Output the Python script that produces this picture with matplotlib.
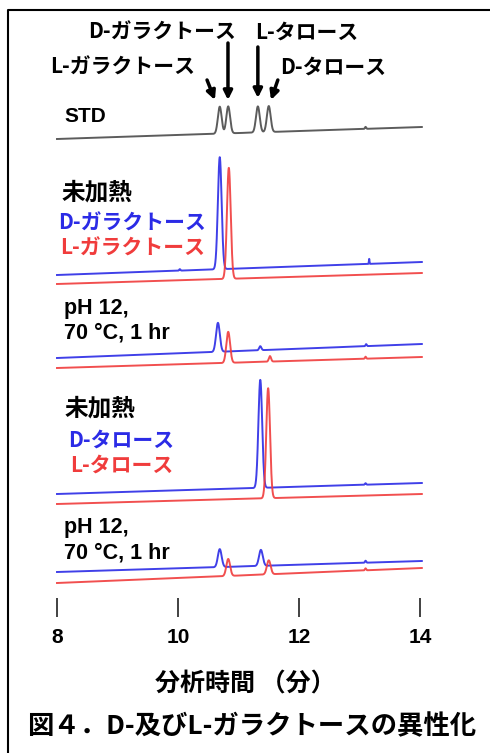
import numpy as np
import matplotlib.pyplot as plt
from matplotlib.lines import Line2D

W, H = 490, 753
JP = ['Noto Sans CJK JP', 'DejaVu Sans']
LAT = ['Liberation Sans', 'DejaVu Sans']

BLUE = '#2b2be6'
RED = '#f03c3c'
GRAY = '#4a4a4a'

std_rt = [10.69, 10.83, 11.32, 11.50, 13.10]
std_h = [27, 27, 26, 26, 2]

gal_d_rt = [10.03, 10.69, 13.16]
gal_d_h = [1.5, 112, 5]
gal_l_rt = [10.84]
gal_l_h = [111]

gal_d_heat_rt = [10.66, 11.36, 13.11]
gal_d_heat_h = [29, 4, 2]
gal_l_heat_rt = [10.83, 11.52, 13.10]
gal_l_heat_h = [31, 5.5, 2]

tal_d_rt = [11.36, 13.10]
tal_d_h = [108, 1.5]
tal_l_rt = [11.49]
tal_l_h = [110]

tal_d_heat_rt = [10.69, 11.37, 13.10]
tal_d_heat_h = [18, 16, 2]
tal_l_heat_rt = [10.83, 11.50, 13.10]
tal_l_heat_h = [17, 14, 2]

# deriva de la línea base a lo largo de la corrida
drift = {'std': 12, 'gal_d': 13, 'gal_l': 11, 'gal_d_heat': 14, 'gal_l_heat': 11,
         'tal_d': 11, 'tal_l': 10, 'tal_d_heat': 11, 'tal_l_heat': 15}

x_ticks = [8, 10, 12, 14]

# posición vertical (px desde arriba) de cada traza apilada
AX_BOTTOM = 617
stack_px = {'std': 139, 'gal_d': 275, 'gal_l': 284, 'gal_d_heat': 358, 'gal_l_heat': 368,
            'tal_d': 494, 'tal_l': 504, 'tal_d_heat': 572, 'tal_l_heat': 583}

t0, t1 = 8.0, 14.03
t = np.linspace(t0, t1, 4000)


def trace(key, rts, hs):
    y = (AX_BOTTOM - stack_px[key]) + drift[key] * (t - t0) / (t1 - t0)
    for rt, h in zip(rts, hs):
        if h > 6:
            s = 0.031
        elif h > 3:
            s = 0.018
        else:
            s = 0.010
        if key == 'gal_d' and rt > 13:
            s = 0.005  # pico agudo
        y = y + h * np.exp(-(t - rt) ** 2 / (2 * s ** 2))
    return y


fig = plt.figure(figsize=(W / 100, H / 100), dpi=100)
ax = fig.add_axes([0, (H - AX_BOTTOM) / H, 1, AX_BOTTOM / H])
ax.set_xlim(8 - 57 / 60.5, 8 + (W - 57) / 60.5)
ax.set_ylim(0, AX_BOTTOM)
for sp in ax.spines.values():
    sp.set_visible(False)
ax.set_yticks([])

series = [
    ('std', std_rt, std_h, GRAY),
    ('gal_d', gal_d_rt, gal_d_h, BLUE),
    ('gal_l', gal_l_rt, gal_l_h, RED),
    ('gal_d_heat', gal_d_heat_rt, gal_d_heat_h, BLUE),
    ('gal_l_heat', gal_l_heat_rt, gal_l_heat_h, RED),
    ('tal_d', tal_d_rt, tal_d_h, BLUE),
    ('tal_l', tal_l_rt, tal_l_h, RED),
    ('tal_d_heat', tal_d_heat_rt, tal_d_heat_h, BLUE),
    ('tal_l_heat', tal_l_heat_rt, tal_l_heat_h, RED),
]
for key, rts, hs, c in series:
    ax.plot(t, trace(key, rts, hs), color=c, lw=1.4, alpha=0.9)

# eje x: solo marcas cortas y números
ax.set_xticks(x_ticks)
ax.set_xticklabels([str(v) for v in x_ticks], fontfamily=LAT, fontweight='bold')
ax.tick_params(axis='x', direction='in', length=13.5, width=1.3, color='#333333',
               pad=8, labelsize=15)
ax.set_xlabel('分析時間 （分）', fontfamily=JP, fontweight='bold', fontsize=18, labelpad=18)


def px(x, y):
    return x / W, 1 - y / H


# flechas sobre el patrón
arrows = [((10.48, 537), (10.61, 517)), ((10.826, 574), (10.826, 517)),
          ((11.32, 570), (11.32, 519)), ((11.65, 537), (11.537, 517))]
for tail, tip in arrows:
    ax.annotate('', xy=tip, xytext=tail,
                arrowprops=dict(arrowstyle='-|>', lw=2.5, color='black', mutation_scale=13,
                                shrinkA=0, shrinkB=0))

fig.text(*px(162, 32), 'D-ガラクトース', fontfamily=JP, fontweight='bold', fontsize=15,
         ha='center', va='center')
fig.text(*px(307, 32), 'L-タロース', fontfamily=JP, fontweight='bold', fontsize=15,
         ha='center', va='center')
fig.text(*px(123, 67), 'L-ガラクトース', fontfamily=JP, fontweight='bold', fontsize=15,
         ha='center', va='center')
fig.text(*px(333, 67), 'D-タロース', fontfamily=JP, fontweight='bold', fontsize=15,
         ha='center', va='center')
fig.text(*px(64, 117), 'STD', fontfamily=LAT, fontweight='bold', fontsize=15, va='center')

labels = [
    (62, 192, '未加熱', 'black', JP, 17),
    (58, 223, 'D-ガラクトース', BLUE, JP, 15),
    (60, 248, 'L-ガラクトース', RED, JP, 15),
    (64, 308, 'pH 12,', 'black', LAT, 15.5),
    (64, 333, '70 °C, 1 hr', 'black', LAT, 15.5),
    (65, 408, '未加熱', 'black', JP, 17),
    (68, 440, 'D-タロース', BLUE, JP, 15),
    (70, 465, 'L-タロース', RED, JP, 15),
    (64, 527, 'pH 12,', 'black', LAT, 15.5),
    (64, 553, '70 °C, 1 hr', 'black', LAT, 15.5),
]
for x, y, s, c, fam, fs in labels:
    fig.text(*px(x, y), s, color=c, fontfamily=fam, fontweight='bold', fontsize=fs, va='center')

fig.text(*px(252, 727), '図４．D-及びL-ガラクトースの異性化', fontfamily=JP, fontweight='bold',
         fontsize=19, ha='center', va='center')

# marco (solo bordes izquierdo y superior visibles)
fig.add_artist(Line2D([8 / W, 8 / W, 1], [0, 1 - 10 / H, 1 - 10 / H],
                      transform=fig.transFigure, color='black', lw=1.5))

plt.savefig('out.png', dpi=100)
